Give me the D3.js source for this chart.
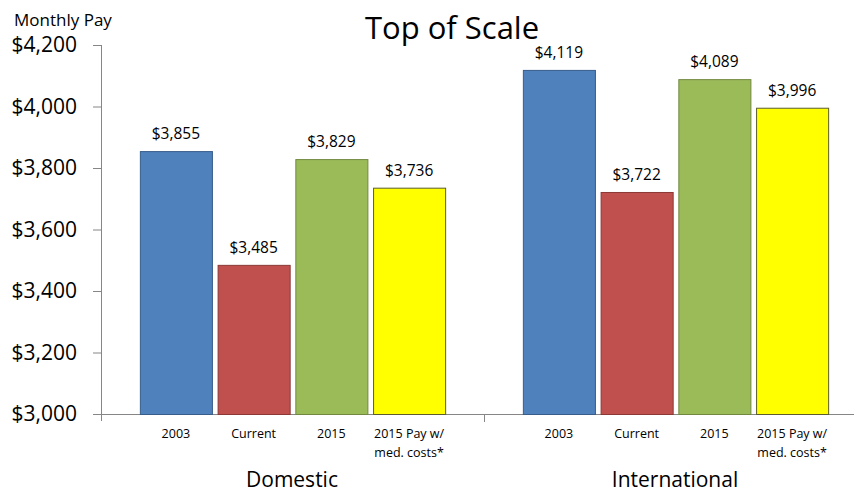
<!DOCTYPE html>
<html lang="en">
<head>
<meta charset="UTF-8">
<title>Top of Scale</title>
<script src="https://d3js.org/d3.v7.min.js"></script>
<style>
  body { margin: 0; background: #fff; }
  text { font-family: "Open Sans", Lato, sans-serif; fill: #000; }
</style>
</head>
<body>
<script>
    // chart data
    const groups = ["Domestic", "International"];
    const series = ["2003", "Current", "2015", "2015 Pay w/ med. costs*"];
    const seriesLines = [["2003"], ["Current"], ["2015"], ["2015 Pay w/", "med. costs*"]];
    const domestic = [3855, 3485, 3829, 3736];
    const international = [4119, 3722, 4089, 3996];
    const yTicks = [3000, 3200, 3400, 3600, 3800, 4000, 4200];
    const fills = ["#4f81bd", "#c0504d", "#9bbb59", "#ffff00"];
    const strokes = ["#385d8a", "#8c3836", "#71893f", "#5c5c2e"];

    const W = 854, H = 493;
    const svg = d3.select("body").append("svg")
        .attr("width", W)
        .attr("height", H);

    const mLeft = 101, mRight = 867, mTop = 45, mBottom = 414;

    let x0 = d3.scaleBand().domain(groups).range([mLeft, mRight]).padding(0);
    let x1 = d3.scaleBand().domain(series).range([0, x0.bandwidth()])
        .paddingInner(0.073).paddingOuter(0.5);
    let y = d3.scaleLinear().domain([3000, 4200]).range([mBottom, mTop]);

    const rows = groups.map((g, i) => ({ group: g, values: i === 0 ? domestic : international }));

    // y axis
    const yAxis = svg.append("g")
        .attr("transform", `translate(${mLeft},0)`)
        .call(d3.axisLeft(y).tickValues(yTicks).tickSize(8).tickPadding(16)
            .tickFormat(d => "$" + d3.format(",")(d)));
    yAxis.select(".domain").attr("stroke", "#868686").attr("d", `M0.5,${mTop}V${mBottom + 7}`);
    yAxis.selectAll(".tick line").attr("stroke", "#868686");
    yAxis.selectAll(".tick text").attr("font-size", 21).attr("font-family", "'Open Sans', sans-serif").attr("fill", "#000");

    // baseline + category divider
    svg.append("line")
        .attr("x1", mLeft - 8).attr("x2", W)
        .attr("y1", mBottom + 0.5).attr("y2", mBottom + 0.5)
        .attr("stroke", "#868686");
    svg.append("line")
        .attr("x1", x0("International") + 0.5).attr("x2", x0("International") + 0.5)
        .attr("y1", mBottom).attr("y2", mBottom + 8)
        .attr("stroke", "#868686");

    // bars
    const g = svg.selectAll(".grp")
        .data(rows)
        .enter().append("g")
        .attr("transform", d => `translate(${x0(d.group)},0)`);

    g.selectAll("rect")
        .data(d => d.values.map((v, i) => ({ key: series[i], v: v, i: i })))
        .enter().append("rect")
        .attr("x", d => x1(d.key) + 0.5)
        .attr("y", d => y(d.v) + 0.5)
        .attr("width", x1.bandwidth())
        .attr("height", d => y(3000) - y(d.v))
        .attr("fill", d => fills[d.i])
        .attr("stroke", d => strokes[d.i])
        .attr("stroke-width", 1);

    // value labels
    g.selectAll(".val")
        .data(d => d.values.map((v, i) => ({ key: series[i], v: v })))
        .enter().append("text")
        .attr("x", d => x1(d.key) + x1.bandwidth() / 2)
        .attr("y", d => y(d.v) - 12)
        .attr("text-anchor", "middle")
        .attr("font-size", 15.5)
        .text(d => "$" + d3.format(",")(d.v));

    // series labels under bars
    g.selectAll(".cat")
        .data(series.map((s, i) => ({ key: s, lines: seriesLines[i] })))
        .enter().append("text")
        .attr("text-anchor", "middle")
        .attr("font-size", 12.5)
        .attr("transform", d => `translate(${x1(d.key) + x1.bandwidth() / 2},438)`)
        .selectAll("tspan")
        .data(d => d.lines)
        .enter().append("tspan")
        .attr("x", 0)
        .attr("dy", (d, i) => i === 0 ? 0 : 19)
        .text(d => d);

    // group labels
    g.append("text")
        .attr("x", x1.range()[1] / 2 - 0.5)
        .attr("y", 487)
        .attr("text-anchor", "middle")
        .attr("font-size", 21)
        .text(d => d.group);

    // titles
    svg.append("text")
        .attr("x", 452).attr("y", 39)
        .attr("text-anchor", "middle")
        .attr("font-size", 31)
        .text("Top of Scale");

    svg.append("text")
        .attr("x", 14).attr("y", 26)
        .attr("font-size", 17)
        .text("Monthly Pay");
</script>
</body>
</html>
